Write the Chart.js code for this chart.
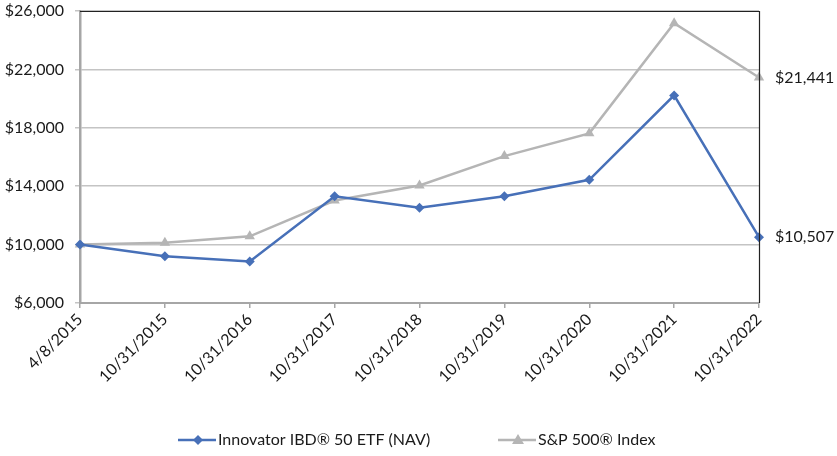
<!DOCTYPE html>
<html>
<head>
<meta charset="utf-8">
<script src="https://cdn.jsdelivr.net/npm/chart.js@4"></script>
<style>
html,body{margin:0;padding:0;background:#fff;}
#wrap{width:837px;height:456px;position:relative;}
</style>
</head>
<body>
<div id="wrap"><canvas id="c" width="837" height="456"></canvas></div>
<script>
const categories = ["4/8/2015","10/31/2015","10/31/2016","10/31/2017","10/31/2018","10/31/2019","10/31/2020","10/31/2021","10/31/2022"];
const fundValues = [10000, 9200, 8850, 13310, 12520, 13310, 14440, 20220, 10507];
const indexValues = [10000, 10120, 10570, 13020, 14050, 16060, 17620, 25160, 21441];
const seriesNames = ["Innovator IBD\u00AE 50 ETF (NAV)", "S&P 500\u00AE Index"];
const yTicks = [6000, 10000, 14000, 18000, 22000, 26000];

const BLUE = '#4770b8';
const GRAY = '#b5b5b5';
const FONT = 'Lato, "Open Sans", sans-serif';

function money(v){ return '$' + Math.round(v).toLocaleString('en-US'); }

const extras = {
  id: 'extras',
  afterDraw(chart){
    const ctx = chart.ctx;
    const a = chart.chartArea;
    const y = chart.scales.y;
    ctx.save();
    // top and right border
    ctx.strokeStyle = '#222';
    ctx.lineWidth = 1.2;
    ctx.beginPath();
    ctx.moveTo(a.left, a.top + 0.5);
    ctx.lineTo(a.right + 0.5, a.top + 0.5);
    ctx.lineTo(a.right + 0.5, a.bottom);
    ctx.stroke();
    // end labels
    ctx.fillStyle = '#1a1a1a';
    ctx.font = '16px ' + FONT;
    ctx.textBaseline = 'middle';
    ctx.textAlign = 'left';
    const last = categories.length - 1;
    ctx.fillText(money(indexValues[last]), a.right + 16, y.getPixelForValue(indexValues[last]));
    ctx.fillText(money(fundValues[last]), a.right + 16, y.getPixelForValue(fundValues[last]));
    // legend
    const ly = 440;
    ctx.font = '16px ' + FONT;
    const items = [
      {x0: 178, color: BLUE, style: 'diamond', label: seriesNames[0]},
      {x0: 498, color: GRAY, style: 'triangle', label: seriesNames[1]}
    ];
    items.forEach(it => {
      ctx.strokeStyle = it.color;
      ctx.lineWidth = 2.5;
      ctx.beginPath();
      ctx.moveTo(it.x0, ly);
      ctx.lineTo(it.x0 + 38, ly);
      ctx.stroke();
      ctx.fillStyle = it.color;
      const cx = it.x0 + 20;
      ctx.beginPath();
      if (it.style === 'diamond') {
        ctx.moveTo(cx, ly - 5); ctx.lineTo(cx + 5, ly); ctx.lineTo(cx, ly + 5); ctx.lineTo(cx - 5, ly);
      } else {
        ctx.moveTo(cx, ly - 6); ctx.lineTo(cx + 6, ly + 4); ctx.lineTo(cx - 6, ly + 4);
      }
      ctx.closePath();
      ctx.fill();
      ctx.fillStyle = '#1a1a1a';
      ctx.fillText(it.label, it.x0 + 40, ly);
    });
    ctx.restore();
  }
};

new Chart(document.getElementById('c'), {
  type: 'line',
  data: {
    labels: categories,
    datasets: [
      {
        label: seriesNames[0],
        data: fundValues,
        borderColor: BLUE,
        backgroundColor: BLUE,
        borderWidth: 2.5,
        pointStyle: 'rectRot',
        pointRadius: 5,
        pointHoverRadius: 5,
        pointBorderWidth: 0,
        tension: 0
      },
      {
        label: seriesNames[1],
        data: indexValues,
        borderColor: GRAY,
        backgroundColor: GRAY,
        borderWidth: 2.5,
        pointStyle: 'triangle',
        pointRadius: 6,
        pointHoverRadius: 6,
        pointBorderWidth: 0,
        tension: 0
      }
    ]
  },
  options: {
    responsive: false,
    animation: false,
    devicePixelRatio: 1,
    layout: { padding: { top: 11, right: 78, bottom: 40, left: 0 } },
    plugins: { legend: { display: false }, tooltip: { enabled: false } },
    scales: {
      x: {
        offset: false,
        grid: { drawOnChartArea: false, drawTicks: true, tickLength: 5, color: '#a6a6a6', lineWidth: 1.5 },
        border: { color: '#a6a6a6', width: 2 },
        ticks: {
          color: '#1a1a1a', font: { family: FONT, size: 16 },
          minRotation: 45, maxRotation: 45, autoSkip: false, padding: 2
        },
        afterFit(s){ s.height = 113; s.paddingLeft = 0; s.paddingRight = 0; }
      },
      y: {
        min: 6000, max: 26000,
        afterBuildTicks(s){ s.ticks = yTicks.map(v => ({value: v})); },
        grid: { color: '#c4c4c4', lineWidth: 1.5, drawTicks: true, tickLength: 5 },
        border: { color: '#a6a6a6', width: 2.5 },
        ticks: {
          color: '#1a1a1a', font: { family: FONT, size: 16 }, padding: 11,
          callback: v => money(v)
        },
        afterFit(s){ s.width = 80; s.paddingTop = 0; s.paddingBottom = 0; }
      }
    }
  },
  plugins: [extras]
});
</script>
</body>
</html>
